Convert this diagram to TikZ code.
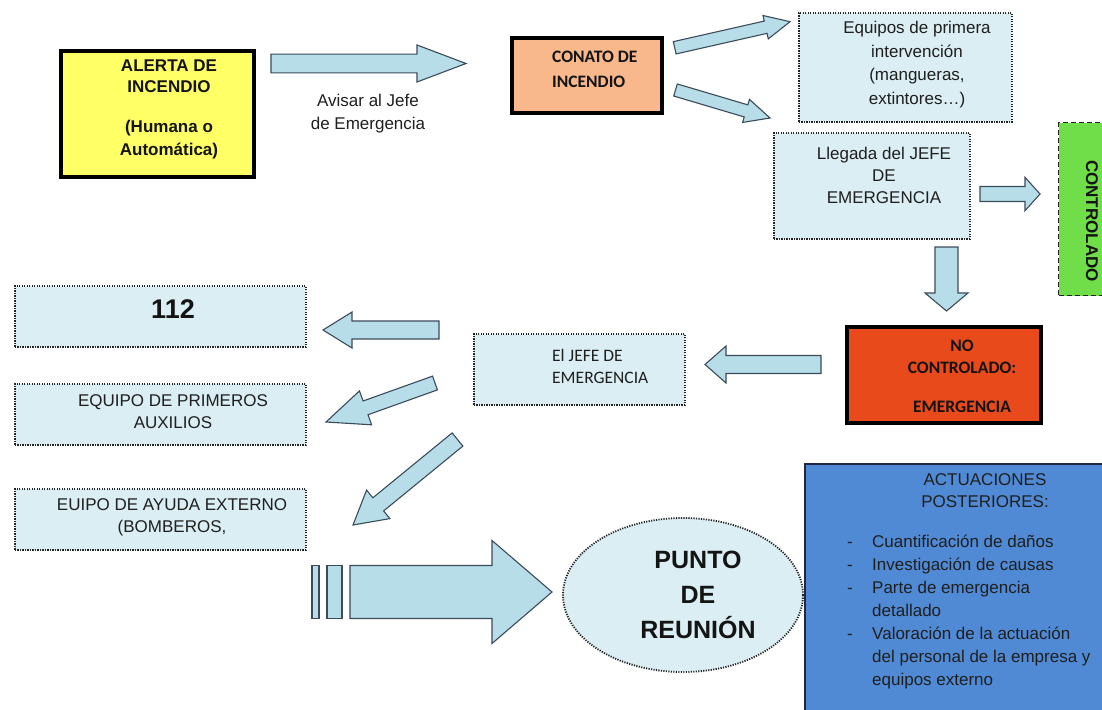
\documentclass[tikz,border=0pt]{standalone}
\usepackage{fontspec}
\setmainfont{Liberation Sans}
\newfontfamily\calfont{Carlito}
\usetikzlibrary{calc,shapes.geometric}

\definecolor{paleblue}{RGB}{219,238,244}
\definecolor{arrowblue}{RGB}{183,221,232}
\definecolor{arrowline}{RGB}{60,75,90}
\definecolor{alertyellow}{RGB}{255,255,102}
\definecolor{conatoorange}{RGB}{248,184,140}
\definecolor{nored}{RGB}{232,74,28}
\definecolor{okgreen}{RGB}{112,222,72}
\definecolor{actblue}{RGB}{80,138,212}
\definecolor{navy}{RGB}{30,40,70}
\definecolor{dotgray}{RGB}{35,35,35}

% #1 tail coordinate, #2 tip coordinate, #3 body half width, #4 head half width, #5 head length
\newcommand{\blockarrow}[5]{%
  \coordinate (#1-#2-h) at ($(#2)!#5!(#1)$);
  \draw[barrow] ($(#1)!#3!90:(#2)$) -- ($(#1-#2-h)!#3!90:(#2)$) -- ($(#1-#2-h)!#4!90:(#2)$)
    -- (#2) -- ($(#1-#2-h)!#4!-90:(#2)$) -- ($(#1-#2-h)!#3!-90:(#2)$) -- ($(#1)!#3!-90:(#2)$) -- cycle;
}

\tikzset{
  barrow/.style={draw=arrowline, fill=arrowblue, line width=1.1pt, line join=miter},
  dotbox/.style={draw=dotgray, fill=paleblue, line width=1.8pt, dash pattern=on 1.2pt off 1.3pt, inner sep=0pt},
  thickbox/.style={draw=black, line width=4pt, inner sep=0pt},
  greenbox/.style={draw=dotgray, fill=okgreen, line width=1.2pt, dash pattern=on 5pt off 3pt, inner sep=0pt},
  actbox/.style={draw=navy, fill=actblue, line width=2pt, inner sep=0pt},
  txt/.style={inner sep=0pt, align=center, font=\fontsize{17pt}{22pt}\selectfont, text=black!88},
  btxt/.style={inner sep=0pt, align=center, font=\bfseries\fontsize{17pt}{21pt}\selectfont, text=black!92},
  ctxt/.style={inner sep=0pt, align=left, font=\calfont\fontsize{17.5pt}{22pt}\selectfont, text=black!88},
  cbtxt/.style={inner sep=0pt, align=left, font=\calfont\bfseries\fontsize{17.5pt}{25pt}\selectfont, text=black!92},
}

\begin{document}
\begin{tikzpicture}[x=1pt,y=-1pt]
\useasboundingbox (0,0) rectangle (1102,709);
\clip (0,0) rectangle (1102,709);
\fill[white] (0,0) rectangle (1102,709);

% ---------- boxes ----------
\node[thickbox, fill=alertyellow, minimum width=193pt, minimum height=126pt, anchor=north west] (alerta) at (59,49) {};
\node[thickbox, fill=conatoorange, minimum width=150pt, minimum height=75pt, anchor=north west] (conato) at (510,36) {};
\node[dotbox, minimum width=213pt, minimum height=109pt, anchor=north west] (equipos) at (798,12) {};
\node[dotbox, minimum width=196pt, minimum height=106pt, anchor=north west] (llegada) at (773,132) {};
\node[greenbox, minimum width=70pt, minimum height=173pt, anchor=north west] (ctrl) at (1058,122) {};
\node[thickbox, fill=nored, minimum width=194pt, minimum height=96pt, anchor=north west] (nocontrol) at (845,325) {};
\node[dotbox, minimum width=211pt, minimum height=71pt, anchor=north west] (jefe) at (473,333) {};
\node[dotbox, minimum width=291pt, minimum height=61pt, anchor=north west] (b112) at (14,285) {};
\node[dotbox, minimum width=291pt, minimum height=61pt, anchor=north west] (auxilios) at (14,383) {};
\node[dotbox, minimum width=291pt, minimum height=61pt, anchor=north west] (externo) at (14,488) {};
\node[dotbox, ellipse, minimum width=240pt, minimum height=154pt] (punto) at (683,595) {};
\node[actbox, minimum width=320pt, minimum height=270pt, anchor=north west] (act) at (804,463) {};

% ---------- texts ----------
\node[btxt] (alerta-t) at (169,109) {ALERTA DE\\INCENDIO\\[19pt](Humana o\\[2pt]Automática)};
\node[txt, font=\fontsize{17pt}{23pt}\selectfont] (avisar) at (368,113.5) {Avisar al Jefe\\de Emergencia};
\node[cbtxt, anchor=west] (conato-t) at (552,69.5) {CONATO DE\\INCENDIO};
\node[txt, font=\fontsize{17pt}{23.7pt}\selectfont] (equipos-t) at (917,64.5) {Equipos de primera\\intervención\\(mangueras,\\extintores…)};
\node[txt] (llegada-t) at (884,175) {Llegada del JEFE\\DE\\EMERGENCIA};
\node[btxt, rotate=-90] (ctrl-t) at (1092,221) {CONTROLADO};
\node[cbtxt, align=center, font=\calfont\bfseries\fontsize{17.5pt}{22pt}\selectfont] (nocontrol-t) at (962,376.5) {NO\\CONTROLADO:\\[17pt]EMERGENCIA};
\node[ctxt, anchor=west] (jefe-t) at (552,366) {El JEFE DE\\EMERGENCIA};
\node[btxt, font=\bfseries\fontsize{27pt}{30pt}\selectfont] (b112-t) at (173,309) {112};
\node[txt] (auxilios-t) at (173,412) {EQUIPO DE PRIMEROS\\AUXILIOS};
\node[txt] (externo-t) at (172,517) {EUIPO DE AYUDA EXTERNO\\(BOMBEROS,};
\node[btxt, font=\bfseries\fontsize{25pt}{35pt}\selectfont] (punto-t) at (698,595) {PUNTO\\DE\\REUNIÓN};
\node[txt] (act-title) at (985,491) {ACTUACIONES\\POSTERIORES:};
\node[txt, align=left, anchor=west, font=\fontsize{17pt}{23pt}\selectfont] (act-list) at (847,612)
  {\makebox[25pt][l]{-}Cuantificación de daños\\
   \makebox[25pt][l]{-}Investigación de causas\\
   \makebox[25pt][l]{-}Parte de emergencia\\
   \hspace*{25pt}detallado\\
   \makebox[25pt][l]{-}Valoración de la actuación\\
   \hspace*{25pt}del personal de la empresa y\\
   \hspace*{25pt}equipos externo};

% ---------- block arrows ----------
\coordinate (a1s) at (271,63.5);   \coordinate (a1e) at (466,63.5);
\coordinate (a2s) at (674.7,47.8); \coordinate (a2e) at (790,21.7);
\coordinate (a3s) at (675.5,90);   \coordinate (a3e) at (770,118);
\coordinate (a4s) at (980,194);    \coordinate (a4e) at (1040,194);
\coordinate (a5s) at (946.5,247);  \coordinate (a5e) at (946.5,311);
\coordinate (a6s) at (821,364.5);  \coordinate (a6e) at (705,364.5);
\coordinate (a7s) at (439,330);    \coordinate (a7e) at (323,330);
\coordinate (a8s) at (435,383);    \coordinate (a8e) at (326,422);
\coordinate (a9s) at (457.5,439.5);\coordinate (a9e) at (353,525);
\coordinate (a10s) at (350,592);   \coordinate (a10e) at (552,592);

\blockarrow{a1s}{a1e}{9.3pt}{18.5pt}{49pt}
\blockarrow{a2s}{a2e}{6.3pt}{12pt}{25pt}
\blockarrow{a3s}{a3e}{6.3pt}{12pt}{25pt}
\blockarrow{a4s}{a4e}{7.5pt}{16.7pt}{15pt}
\blockarrow{a5s}{a5e}{11.5pt}{21.5pt}{18pt}
\blockarrow{a6s}{a6e}{9pt}{18.5pt}{21pt}
\blockarrow{a7s}{a7e}{9pt}{18pt}{29pt}
\blockarrow{a8s}{a8e}{7.3pt}{18pt}{42pt}
\blockarrow{a9s}{a9e}{8.5pt}{18.4pt}{32.6pt}
\blockarrow{a10s}{a10e}{26.5pt}{51.5pt}{60pt}
\draw[barrow] (312,565.5) rectangle (319,618.5);
\draw[barrow] (327,565.5) rectangle (342,618.5);
\end{tikzpicture}
\end{document}
